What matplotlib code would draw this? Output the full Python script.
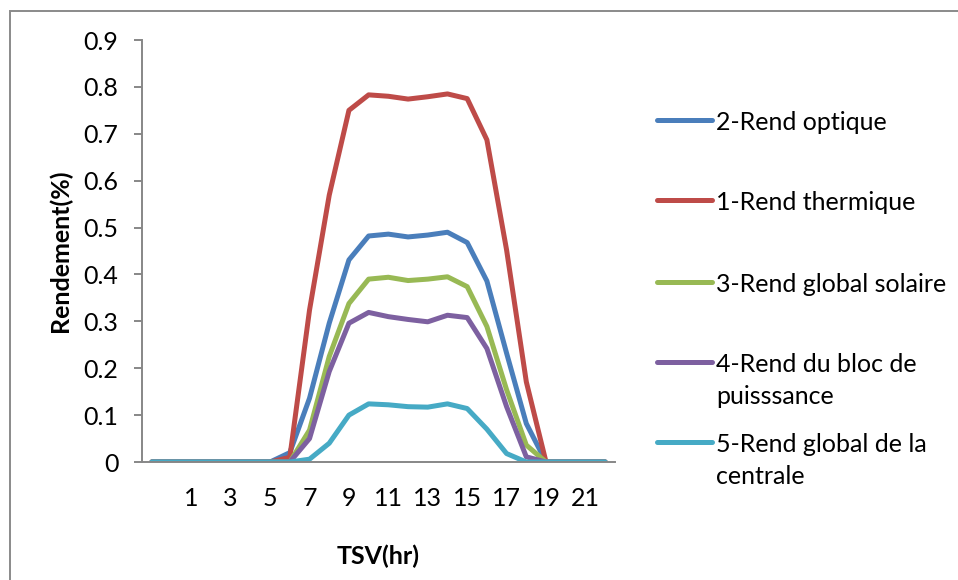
import numpy as np
import matplotlib.pyplot as plt
from matplotlib.lines import Line2D
from matplotlib.patches import Rectangle

plt.rcParams['font.family'] = ['Lato', 'DejaVu Sans']

# hourly categories (TSV), 24 points
hours = list(range(-1, 23))

rend_optique = [0, 0, 0, 0, 0, 0, 0, 0.02, 0.136, 0.296, 0.431, 0.482, 0.486, 0.480,
                0.484, 0.490, 0.468, 0.386, 0.232, 0.082, 0, 0, 0, 0]
rend_thermique = [0, 0, 0, 0, 0, 0, 0, 0.01, 0.324, 0.569, 0.750, 0.783, 0.780, 0.774,
                  0.779, 0.785, 0.775, 0.687, 0.452, 0.171, 0, 0, 0, 0]
rend_global_solaire = [0, 0, 0, 0, 0, 0, 0, 0, 0.068, 0.225, 0.338, 0.390, 0.394, 0.387,
                       0.390, 0.395, 0.374, 0.289, 0.154, 0.036, 0, 0, 0, 0]
rend_bloc = [0, 0, 0, 0, 0, 0, 0, 0, 0.050, 0.193, 0.296, 0.319, 0.310, 0.304,
             0.299, 0.313, 0.308, 0.242, 0.118, 0.011, 0, 0, 0, 0]
rend_centrale = [0, 0, 0, 0, 0, 0, 0, 0, 0.006, 0.040, 0.100, 0.124, 0.122, 0.118,
                 0.117, 0.124, 0.114, 0.070, 0.018, 0, 0, 0, 0, 0]

series = [rend_optique, rend_thermique, rend_global_solaire, rend_bloc, rend_centrale]
labels = ['2-Rend optique', '1-Rend thermique', '3-Rend global solaire',
          '4-Rend du bloc de\npuisssance', '5-Rend global de la\ncentrale']
colors = ['#4A7EBB', '#BE4B48', '#98B954', '#7D60A0', '#46AAC5']

W, H = 958, 580
fig = plt.figure(figsize=(W / 100, H / 100), dpi=100)
ax = fig.add_axes([142 / W, 1 - 462 / H, 473 / W, 422 / H])

x = np.arange(len(hours))
for vals, c in zip(series, colors):
    ax.plot(x, vals, color=c, lw=3.6, solid_capstyle='round', solid_joinstyle='round')

ax.set_xlim(-0.5, len(hours) - 0.5)
ax.set_ylim(0, 0.9)
ax.set_yticks(np.arange(0, 0.91, 0.1))
ax.set_yticklabels(['0'] + ['%.1f' % v for v in np.arange(0.1, 0.91, 0.1)])
tick_idx = [i for i, h in enumerate(hours) if h > 0 and h % 2 == 1]
ax.set_xticks(tick_idx)
ax.set_xticklabels([str(hours[i]) for i in tick_idx])

for s in ['top', 'right']:
    ax.spines[s].set_visible(False)
for s in ['left', 'bottom']:
    ax.spines[s].set_color('#878787')
    ax.spines[s].set_linewidth(1.4)
ax.tick_params(axis='y', length=6, width=1.4, color='#878787', labelsize=18, pad=11)
ax.tick_params(axis='x', length=0, labelsize=18, pad=18)

ax.set_ylabel('Rendement(%)', fontsize=18, fontweight='bold', labelpad=8)
ax.set_xlabel('TSV(hr)', fontsize=18, fontweight='bold', labelpad=25)

# legend drawn by hand so the handle sits on the first text line
legend_y = [120, 200, 282, 362, 442]
for lab, c, y in zip(labels, colors, legend_y):
    fig.add_artist(Line2D([657 / W, 712 / W], [1 - y / H, 1 - y / H], color=c, lw=3.6,
                          solid_capstyle='round'))
    for k, line in enumerate(lab.split('\n')):
        fig.text(716 / W, 1 - (y + 33 * k) / H, line, fontsize=18,
                 va='center_baseline', ha='left')

# chart area frame
fig.add_artist(Rectangle((9.5 / W, -0.1), 1.2, 1 - 10.5 / H + 0.1, transform=fig.transFigure,
                         fill=False, edgecolor='#8a8a8a', lw=1.4))

fig.savefig('out.png', dpi=100)
